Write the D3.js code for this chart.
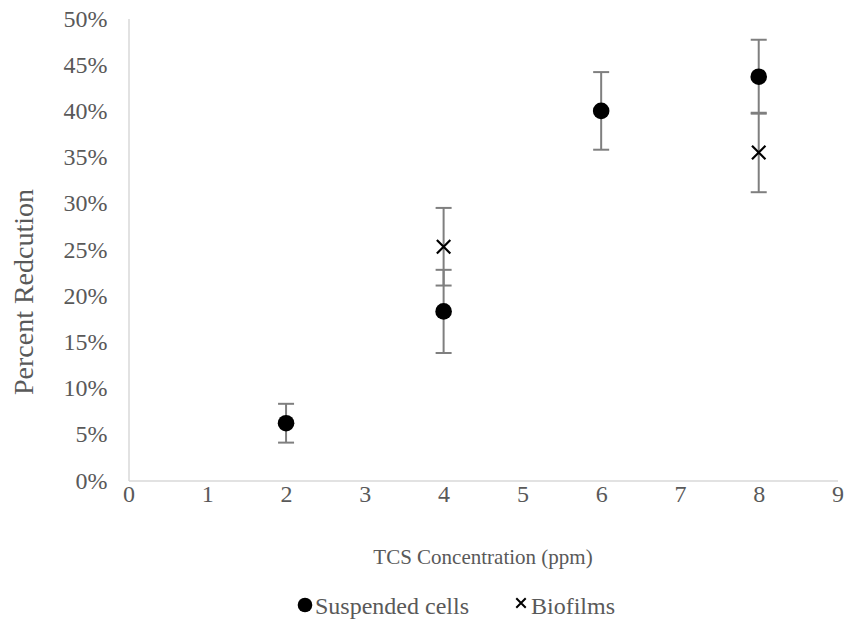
<!DOCTYPE html>
<html lang="en">
<head>
    <meta charset="UTF-8">
    <title>Percent Reduction</title>
    <script type="text/javascript" src="https://cdn.jsdelivr.net/npm/d3@7"></script>
    <style type="text/css">
        body { margin: 0; background: #fff; }
        text { font-family: "Liberation Serif", "Times New Roman", serif; fill: #595959; }
    </style>
</head>
<body>
    <script type="text/javascript">
        //Width and height
        var w = 846;
        var h = 643;

        //Data
        var suspendedX = [2, 4, 6, 8];
        var suspendedY = [0.062, 0.183, 0.400, 0.437];
        var suspendedErr = [0.021, 0.045, 0.042, 0.040];

        var biofilmX = [4, 8];
        var biofilmY = [0.253, 0.355];
        var biofilmErr = [0.042, 0.043];

        var xTicks = [0, 1, 2, 3, 4, 5, 6, 7, 8, 9];
        var yTicks = [0, 0.05, 0.10, 0.15, 0.20, 0.25, 0.30, 0.35, 0.40, 0.45, 0.50];

        var suspended = suspendedX.map(function(x, i) {
            return { x: x, y: suspendedY[i], e: suspendedErr[i] };
        });
        var biofilms = biofilmX.map(function(x, i) {
            return { x: x, y: biofilmY[i], e: biofilmErr[i] };
        });

        //Scales
        var xScale = d3.scaleLinear().domain([0, 9]).range([128.5, 837.5]);
        var yScale = d3.scaleLinear().domain([0, 0.5]).range([480.5, 18.5]);

        var svg = d3.select("body")
            .append("svg")
            .attr("width", w)
            .attr("height", h);

        //Axes
        var xAxis = d3.axisBottom(xScale).tickValues(xTicks).tickSize(0).tickPadding(4)
            .tickFormat(d3.format("d"));
        var yAxis = d3.axisLeft(yScale).tickValues(yTicks).tickSize(0).tickPadding(21)
            .tickFormat(d3.format(".0%"));

        var gx = svg.append("g")
            .attr("transform", "translate(0," + yScale(0) + ")")
            .call(xAxis);
        var gy = svg.append("g")
            .attr("transform", "translate(" + xScale(0) + ",0)")
            .call(yAxis);

        [gx, gy].forEach(function(g) {
            g.select(".domain").attr("stroke", "#d9d9d9").attr("stroke-width", 1.5);
            g.selectAll("text")
                .attr("font-family", "Liberation Serif, serif")
                .attr("font-size", "24px")
                .attr("fill", "#595959");
        });

        //Axis titles
        svg.append("text")
            .attr("x", (xScale(0) + xScale(9)) / 2)
            .attr("y", 564)
            .attr("text-anchor", "middle")
            .attr("font-size", "21px")
            .text("TCS Concentration (ppm)");

        svg.append("text")
            .attr("transform", "translate(33,292) rotate(-90)")
            .attr("text-anchor", "middle")
            .attr("font-size", "28px")
            .text("Percent Redcution");

        //Error bars
        function errorBars(data, cls) {
            var g = svg.append("g").attr("class", cls);
            g.selectAll("line.stem")
                .data(data)
                .enter()
                .append("line")
                .attr("class", "stem")
                .attr("x1", function(d) { return xScale(d.x); })
                .attr("x2", function(d) { return xScale(d.x); })
                .attr("y1", function(d) { return yScale(d.y - d.e); })
                .attr("y2", function(d) { return yScale(d.y + d.e); });
            g.selectAll("line.capTop")
                .data(data)
                .enter()
                .append("line")
                .attr("class", "capTop")
                .attr("x1", function(d) { return xScale(d.x) - 8; })
                .attr("x2", function(d) { return xScale(d.x) + 8; })
                .attr("y1", function(d) { return yScale(d.y + d.e); })
                .attr("y2", function(d) { return yScale(d.y + d.e); });
            g.selectAll("line.capBot")
                .data(data)
                .enter()
                .append("line")
                .attr("class", "capBot")
                .attr("x1", function(d) { return xScale(d.x) - 8; })
                .attr("x2", function(d) { return xScale(d.x) + 8; })
                .attr("y1", function(d) { return yScale(d.y - d.e); })
                .attr("y2", function(d) { return yScale(d.y - d.e); });
            g.selectAll("line")
                .attr("stroke", "#7f7f7f")
                .attr("stroke-width", 2);
        }
        errorBars(suspended, "errSusp");
        errorBars(biofilms, "errBio");

        //Markers
        svg.selectAll("circle.susp")
            .data(suspended)
            .enter()
            .append("circle")
            .attr("class", "susp")
            .attr("cx", function(d) { return xScale(d.x); })
            .attr("cy", function(d) { return yScale(d.y); })
            .attr("r", 8.3)
            .attr("fill", "#000");

        var cross = d3.symbol().type(d3.symbolX).size(120);
        svg.selectAll("path.bio")
            .data(biofilms)
            .enter()
            .append("path")
            .attr("class", "bio")
            .attr("transform", function(d) {
                return "translate(" + xScale(d.x) + "," + yScale(d.y) + ")";
            })
            .attr("d", cross)
            .attr("fill", "none")
            .attr("stroke", "#000")
            .attr("stroke-width", 2.2);

        //Legend
        var legend = svg.append("g");
        legend.append("circle")
            .attr("cx", 305)
            .attr("cy", 605)
            .attr("r", 7.3)
            .attr("fill", "#000");
        legend.append("text")
            .attr("x", 315)
            .attr("y", 614)
            .attr("font-size", "24px")
            .text("Suspended cells");
        legend.append("path")
            .attr("transform", "translate(521,603)")
            .attr("d", d3.symbol().type(d3.symbolX).size(60)())
            .attr("fill", "none")
            .attr("stroke", "#000")
            .attr("stroke-width", 2);
        legend.append("text")
            .attr("x", 531)
            .attr("y", 614)
            .attr("font-size", "24px")
            .text("Biofilms");
    </script>
</body>
</html>
